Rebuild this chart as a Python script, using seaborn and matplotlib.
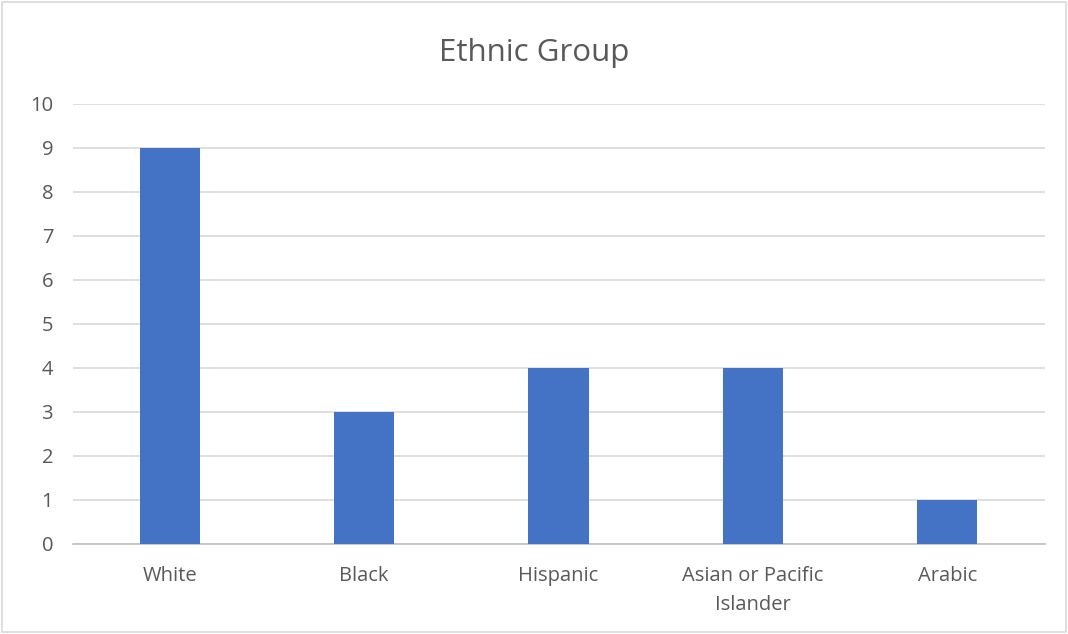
import matplotlib
matplotlib.use("Agg")
import matplotlib.pyplot as plt
import seaborn as sns
import pandas as pd

# Data
groups = ['White', 'Black', 'Hispanic', 'Asian or Pacific\nIslander', 'Arabic']
counts = [9, 3, 4, 4, 1]

df = pd.DataFrame({'group': groups, 'count': counts})

sns.set_style('white')
plt.rcParams['font.family'] = ['Open Sans', 'DejaVu Sans']

fig = plt.figure(figsize=(10.68, 6.34), dpi=100)
ax = fig.add_axes([0.068, 0.142, 0.910, 0.694])

sns.barplot(data=df, x='group', y='count', color='#4472C4', width=0.31,
            saturation=1, linewidth=0, ax=ax, zorder=3)

ax.set_ylim(0, 10)
ax.set_yticks(range(0, 11))
ax.set_xlim(-0.5, len(groups) - 0.5)
ax.yaxis.grid(True, color='#D9D9D9', linewidth=1.2, zorder=0)
ax.set_axisbelow(True)

for side in ['top', 'right', 'left']:
    ax.spines[side].set_visible(False)
ax.spines['bottom'].set_color('#BFBFBF')
ax.spines['bottom'].set_linewidth(1.2)

ax.tick_params(axis='both', length=0, labelsize=14.5, colors='#595959')
ax.tick_params(axis='x', pad=16)
ax.tick_params(axis='y', pad=14)
for lbl in ax.get_xticklabels():
    lbl.set_linespacing(1.6)
ax.set_xlabel('')
ax.set_ylabel('')

fig.suptitle('Ethnic Group', y=0.94, fontsize=22.5, color='#595959')

# light border around the chart area
fig.patches.append(plt.Rectangle((0.002, 0.003), 0.996, 0.994, transform=fig.transFigure,
                                 fill=False, edgecolor='#D9D9D9', linewidth=1.2))

fig.savefig('out.png', dpi=100)
